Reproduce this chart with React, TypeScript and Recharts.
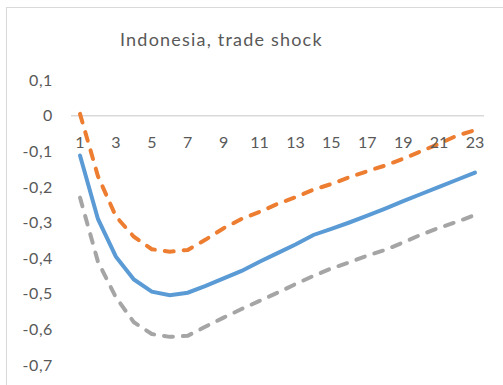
import { Line, LineChart, ReferenceLine, XAxis, YAxis } from 'recharts'

const periods = [
  '1', '2', '3', '4', '5', '6', '7', '8', '9', '10', '11', '12',
  '13', '14', '15', '16', '17', '18', '19', '20', '21', '22', '23',
]

const upperBand = [
  0.005, -0.17, -0.283, -0.34, -0.375, -0.382, -0.377, -0.348, -0.316, -0.29, -0.27, -0.248,
  -0.229, -0.208, -0.192, -0.173, -0.156, -0.14, -0.121, -0.1, -0.079, -0.056, -0.041,
]

const median = [
  -0.112, -0.29, -0.396, -0.46, -0.494, -0.504, -0.497, -0.478, -0.457, -0.436, -0.41, -0.386,
  -0.362, -0.335, -0.318, -0.3, -0.281, -0.261, -0.24, -0.22, -0.2, -0.18, -0.16,
]

const lowerBand = [
  -0.23, -0.41, -0.51, -0.58, -0.613, -0.621, -0.618, -0.592, -0.567, -0.543, -0.52, -0.497,
  -0.473, -0.45, -0.429, -0.412, -0.393, -0.377, -0.356, -0.334, -0.315, -0.298, -0.279,
]

const yTicks = [0.1, 0, -0.1, -0.2, -0.3, -0.4, -0.5, -0.6, -0.7]

const chartData = periods.map((period, i) => ({
  period,
  upper: upperBand[i],
  median: median[i],
  lower: lowerBand[i],
}))

const chartWidth = 503
const chartHeight = 385
const chartMargin = { top: 80, right: 19, left: 0, bottom: 19 }
const xAxisHeight = 1
const yAxisWidth = 71
const yMax = 0.1
const yMin = -0.7

const textColor = '#595959'
const fontFamily = 'Lato, "Open Sans", sans-serif'
const tickFontSize = 16

const plotHeight = chartHeight - chartMargin.top - chartMargin.bottom - xAxisHeight
const zeroY = chartMargin.top + ((yMax - 0) / (yMax - yMin)) * plotHeight

function formatTick(value: number) {
  if (value === 0) return '0'
  return value.toFixed(1).replace('.', ',')
}

// x labels sit under the zero line, like excel does it
function PeriodTick(props: any) {
  const { x, payload } = props
  return (
    <text
      x={x}
      y={zeroY + 26}
      textAnchor="middle"
      dominantBaseline="central"
      fill={textColor}
      fontSize={tickFontSize}
      fontFamily={fontFamily}
    >
      {payload.value}
    </text>
  )
}

const dashedLine = {
  strokeWidth: 4,
  strokeDasharray: '9 10',
  strokeLinecap: 'round' as const,
}

export default function App() {
  return (
    <div
      style={{
        position: 'absolute',
        left: 0,
        top: 0,
        width: chartWidth,
        height: chartHeight,
        overflow: 'hidden',
        background: '#fff',
      }}
    >
      <div
        style={{
          position: 'absolute',
          left: 6,
          top: 7,
          width: 540,
          height: 420,
          border: '1px solid #D9D9D9',
        }}
      />
      <div
        style={{
          position: 'absolute',
          left: 120,
          top: 28,
          fontSize: 18,
          letterSpacing: 1.2,
          fontFamily,
          color: textColor,
          whiteSpace: 'nowrap',
        }}
      >
        Indonesia, trade shock
      </div>
      <div style={{ position: 'absolute', left: 0, top: 0 }}>
        <LineChart width={chartWidth} height={chartHeight} data={chartData} margin={chartMargin}>
          <XAxis
            dataKey="period"
            interval={1}
            height={xAxisHeight}
            padding={{ left: 9, right: 9 }}
            axisLine={false}
            tickLine={false}
            tick={<PeriodTick />}
          />
          <YAxis
            type="number"
            domain={[yMin, yMax]}
            ticks={yTicks}
            width={yAxisWidth}
            axisLine={false}
            tickLine={false}
            tickSize={0}
            tickMargin={18}
            tickFormatter={formatTick}
            tick={{ fill: textColor, fontSize: tickFontSize, fontFamily, letterSpacing: 0.6 }}
            interval={0}
          />
          <ReferenceLine y={0} stroke="#D9D9D9" strokeWidth={1.5} />
          <Line
            dataKey="upper"
            stroke="#ED7D31"
            {...dashedLine}
            dot={false}
            type="linear"
            isAnimationActive={false}
          />
          <Line
            dataKey="median"
            stroke="#5B9BD5"
            strokeWidth={4}
            strokeLinecap="round"
            dot={false}
            type="linear"
            isAnimationActive={false}
          />
          <Line
            dataKey="lower"
            stroke="#A5A5A5"
            {...dashedLine}
            dot={false}
            type="linear"
            isAnimationActive={false}
          />
        </LineChart>
      </div>
    </div>
  )
}
